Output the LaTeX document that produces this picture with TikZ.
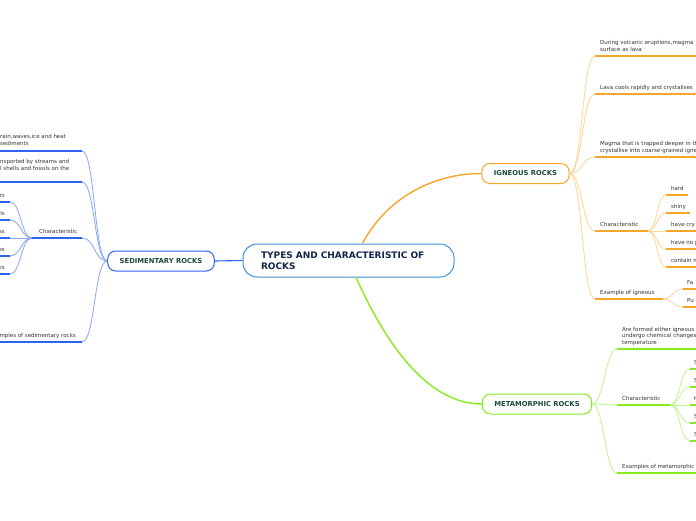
\documentclass[tikz,border=0pt]{standalone}
\usepackage{fontspec}
\setmainfont{DejaVu Sans}
\usepackage{xcolor}
\usetikzlibrary{calc}

\definecolor{rootblue}{HTML}{3F8FDB}
\definecolor{roottext}{HTML}{14254A}
\definecolor{topictext}{HTML}{1B4A3A}
\definecolor{leaftext}{HTML}{333333}
\definecolor{sedblue}{HTML}{2E62F0}
\definecolor{sedlight}{HTML}{86A4F8}
\definecolor{igorange}{HTML}{F7A62C}
\definecolor{iglight}{HTML}{FDD595}
\definecolor{metgreen}{HTML}{86EC1E}
\definecolor{metlight}{HTML}{C0F58C}

\begin{document}
\begin{tikzpicture}[x=1pt, y=-1pt,
  root/.style   = {draw=rootblue, line width=1pt, rounded corners=14pt,
                   fill=white, text=roottext, align=left, text width=175pt,
                   font=\fontsize{9}{11}\selectfont\bfseries,
                   inner xsep=18pt, inner ysep=0pt, minimum height=33pt},
  topic/.style  = {draw, line width=1pt, rounded corners=8pt, fill=white,
                   text=topictext, font=\fontsize{6.8}{8}\selectfont\bfseries,
                   inner xsep=12pt, inner ysep=0pt, minimum height=20pt},
  sedbox/.style = {topic, draw=sedblue},
  igbox/.style  = {topic, draw=igorange},
  metbox/.style = {topic, draw=metgreen},
  leaf/.style   = {inner sep=0pt, text depth=0pt, align=left, text=leaftext,
                   font=\fontsize{5.5}{6.9}\selectfont, anchor=south west},
  sedmain/.style = {sedblue, line width=1.1pt},
  igmain/.style  = {igorange, line width=1.4pt},
  metmain/.style = {metgreen, line width=1.4pt},
  sedul/.style  = {sedblue, line width=1.6pt},
  igul/.style   = {igorange, line width=1.6pt},
  metul/.style  = {metgreen, line width=1.6pt},
  sedbr/.style  = {sedlight, line width=0.8pt},
  igbr/.style   = {iglight, line width=0.8pt},
  metbr/.style  = {metlight, line width=0.8pt},
]

\clip (0,0) rectangle (696,520);
\fill[white] (0,0) rectangle (696,520);

%% ── Root and main topics ───────────────────────────────────────────────────
\node[root]   (root) at (348.5,260.5) {TYPES AND CHARACTERISTIC OF\\ROCKS};
\node[sedbox] (sed)  at (161,261)     {SEDIMENTARY ROCKS};
\node[igbox]  (ig)   at (525.5,173.5) {IGNEOUS ROCKS};
\node[metbox] (met)  at (537,404)     {METAMORPHIC ROCKS};

\draw[sedmain] (root.west) -- (sed.east);
\draw[igmain]  ($(root.north)+(14,0)$) .. controls +(23,-44) and +(-50,0) .. (ig.west);
\draw[metmain] ($(root.south)+(7.5,0)$) .. controls +(24,53) and +(-60,0) .. (met.west);

%% ── Sedimentary lane (left) ────────────────────────────────────────────────
\node[leaf] (s1) at (0,146) {rain,waves,ice and heat\\sediments};
\node[leaf] (s2) at (0,171) {nsported by streams and\\l shells and fossils on the};
\node[leaf] (s3) at (39,234) {Characteristic};
\node[leaf, anchor=south east] (s4) at (76,338) {mples of sedimentary rocks};
\node[leaf, anchor=south east] (s31) at (5,198) {rs};
\node[leaf, anchor=south east] (s32) at (5,216) {ls};
\node[leaf, anchor=south east] (s33) at (5,234) {ss};
\node[leaf, anchor=south east] (s34) at (5,252) {es};
\node[leaf, anchor=south east] (s35) at (5,270) {ks};

\coordinate (s1a) at (82,151);  \coordinate (s1b) at (-5,151);
\coordinate (s2a) at (82,182);  \coordinate (s2b) at (-5,182);
\coordinate (s3a) at (82,238);  \coordinate (s3b) at (32,238);
\coordinate (s4a) at (82,342);  \coordinate (s4b) at (-5,342);
\coordinate (s31a) at (10,202); \coordinate (s31b) at (-5,202);
\coordinate (s32a) at (10,220); \coordinate (s32b) at (-5,220);
\coordinate (s33a) at (10,238); \coordinate (s33b) at (-5,238);
\coordinate (s34a) at (10,256); \coordinate (s34b) at (-5,256);
\coordinate (s35a) at (10,274); \coordinate (s35b) at (-5,274);

\draw[sedbr] (sed.west) .. controls +(-13,0) and +(13,0) .. (s1a);
\draw[sedbr] (sed.west) .. controls +(-13,0) and +(13,0) .. (s2a);
\draw[sedbr] (sed.west) .. controls +(-13,0) and +(13,0) .. (s3a);
\draw[sedbr] (sed.west) .. controls +(-13,0) and +(13,0) .. (s4a);
\draw[sedbr] (s3b) .. controls +(-11,0) and +(11,0) .. (s31a);
\draw[sedbr] (s3b) .. controls +(-11,0) and +(11,0) .. (s32a);
\draw[sedbr] (s3b) .. controls +(-11,0) and +(11,0) .. (s33a);
\draw[sedbr] (s3b) .. controls +(-11,0) and +(11,0) .. (s34a);
\draw[sedbr] (s3b) .. controls +(-11,0) and +(11,0) .. (s35a);

\draw[sedul] (s1a) -- (s1b); \draw[sedul] (s2a) -- (s2b);
\draw[sedul] (s3a) -- (s3b); \draw[sedul] (s4a) -- (s4b);
\draw[sedul] (s31a) -- (s31b); \draw[sedul] (s32a) -- (s32b);
\draw[sedul] (s33a) -- (s33b); \draw[sedul] (s34a) -- (s34b);
\draw[sedul] (s35a) -- (s35b);

%% ── Igneous lane (top right) ───────────────────────────────────────────────
\node[leaf] (i1) at (600,52)  {During volcanic eruptions,magma\\surface as lava};
\node[leaf] (i2) at (600,90)  {Lava cools rapidly and crystalises};
\node[leaf] (i3) at (600,153) {Magma that is trapped deeper in th\\crystallise into coarse-grained igne};
\node[leaf] (i4) at (600,227) {Characteristic};
\node[leaf] (i5) at (600,295) {Example of igneous};
\node[leaf] (i41) at (671,191) {hard};
\node[leaf] (i42) at (671,209) {shiny};
\node[leaf] (i43) at (671,227) {have cry};
\node[leaf] (i44) at (671,245) {have no p};
\node[leaf] (i45) at (671,263) {contain m};
\node[leaf] (i51) at (687,285) {Fa};
\node[leaf] (i52) at (687,303) {Pu};

\coordinate (i1a) at (595,56);  \coordinate (i1b) at (700,56);
\coordinate (i2a) at (595,94);  \coordinate (i2b) at (700,94);
\coordinate (i3a) at (595,157); \coordinate (i3b) at (700,157);
\coordinate (i4a) at (595,231); \coordinate (i4b) at (648,231);
\coordinate (i5a) at (595,299); \coordinate (i5b) at (663,299);
\coordinate (i41a) at (666,195); \coordinate (i41b) at (688,195);
\coordinate (i42a) at (666,213); \coordinate (i42b) at (690,213);
\coordinate (i43a) at (666,231); \coordinate (i43b) at (700,231);
\coordinate (i44a) at (666,249); \coordinate (i44b) at (700,249);
\coordinate (i45a) at (666,267); \coordinate (i45b) at (700,267);
\coordinate (i51a) at (683,289); \coordinate (i51b) at (700,289);
\coordinate (i52a) at (683,307); \coordinate (i52b) at (700,307);

\draw[igbr] (ig.east) .. controls +(13,0) and +(-13,0) .. (i1a);
\draw[igbr] (ig.east) .. controls +(13,0) and +(-13,0) .. (i2a);
\draw[igbr] (ig.east) .. controls +(13,0) and +(-13,0) .. (i3a);
\draw[igbr] (ig.east) .. controls +(13,0) and +(-13,0) .. (i4a);
\draw[igbr] (ig.east) .. controls +(13,0) and +(-13,0) .. (i5a);
\draw[igbr] (i4b) .. controls +(9,0) and +(-9,0) .. (i41a);
\draw[igbr] (i4b) .. controls +(9,0) and +(-9,0) .. (i42a);
\draw[igbr] (i4b) .. controls +(9,0) and +(-9,0) .. (i43a);
\draw[igbr] (i4b) .. controls +(9,0) and +(-9,0) .. (i44a);
\draw[igbr] (i4b) .. controls +(9,0) and +(-9,0) .. (i45a);
\draw[igbr] (i5b) .. controls +(10,0) and +(-10,0) .. (i51a);
\draw[igbr] (i5b) .. controls +(10,0) and +(-10,0) .. (i52a);

\draw[igul] (i1a) -- (i1b); \draw[igul] (i2a) -- (i2b);
\draw[igul] (i3a) -- (i3b); \draw[igul] (i4a) -- (i4b);
\draw[igul] (i5a) -- (i5b);
\draw[igul] (i41a) -- (i41b); \draw[igul] (i42a) -- (i42b);
\draw[igul] (i43a) -- (i43b); \draw[igul] (i44a) -- (i44b);
\draw[igul] (i45a) -- (i45b);
\draw[igul] (i51a) -- (i51b); \draw[igul] (i52a) -- (i52b);

%% ── Metamorphic lane (bottom right) ────────────────────────────────────────
\node[leaf] (m1) at (622,345) {Are formed either igneous\\undergo chemical changes\\temperature};
\node[leaf] (m2) at (622,401) {Characteristic};
\node[leaf] (m3) at (622,469) {Examples of metamorphic};
\node[leaf] (m21) at (694,365) {S};
\node[leaf] (m22) at (694,383) {S};
\node[leaf] (m23) at (694,401) {H};
\node[leaf] (m24) at (694,419) {S};
\node[leaf] (m25) at (694,437) {S};

\coordinate (m1a) at (617,349); \coordinate (m1b) at (700,349);
\coordinate (m2a) at (617,405); \coordinate (m2b) at (670,405);
\coordinate (m3a) at (617,473); \coordinate (m3b) at (700,473);
\coordinate (m21a) at (690,369); \coordinate (m21b) at (700,369);
\coordinate (m22a) at (690,387); \coordinate (m22b) at (700,387);
\coordinate (m23a) at (690,405); \coordinate (m23b) at (700,405);
\coordinate (m24a) at (690,423); \coordinate (m24b) at (700,423);
\coordinate (m25a) at (690,441); \coordinate (m25b) at (700,441);

\draw[metbr] (met.east) .. controls +(12,0) and +(-12,0) .. (m1a);
\draw[metbr] (met.east) .. controls +(12,0) and +(-12,0) .. (m2a);
\draw[metbr] (met.east) .. controls +(12,0) and +(-12,0) .. (m3a);
\draw[metbr] (m2b) .. controls +(10,0) and +(-10,0) .. (m21a);
\draw[metbr] (m2b) .. controls +(10,0) and +(-10,0) .. (m22a);
\draw[metbr] (m2b) .. controls +(10,0) and +(-10,0) .. (m23a);
\draw[metbr] (m2b) .. controls +(10,0) and +(-10,0) .. (m24a);
\draw[metbr] (m2b) .. controls +(10,0) and +(-10,0) .. (m25a);

\draw[metul] (m1a) -- (m1b); \draw[metul] (m2a) -- (m2b);
\draw[metul] (m3a) -- (m3b);
\draw[metul] (m21a) -- (m21b); \draw[metul] (m22a) -- (m22b);
\draw[metul] (m23a) -- (m23b); \draw[metul] (m24a) -- (m24b);
\draw[metul] (m25a) -- (m25b);

\end{tikzpicture}
\end{document}
